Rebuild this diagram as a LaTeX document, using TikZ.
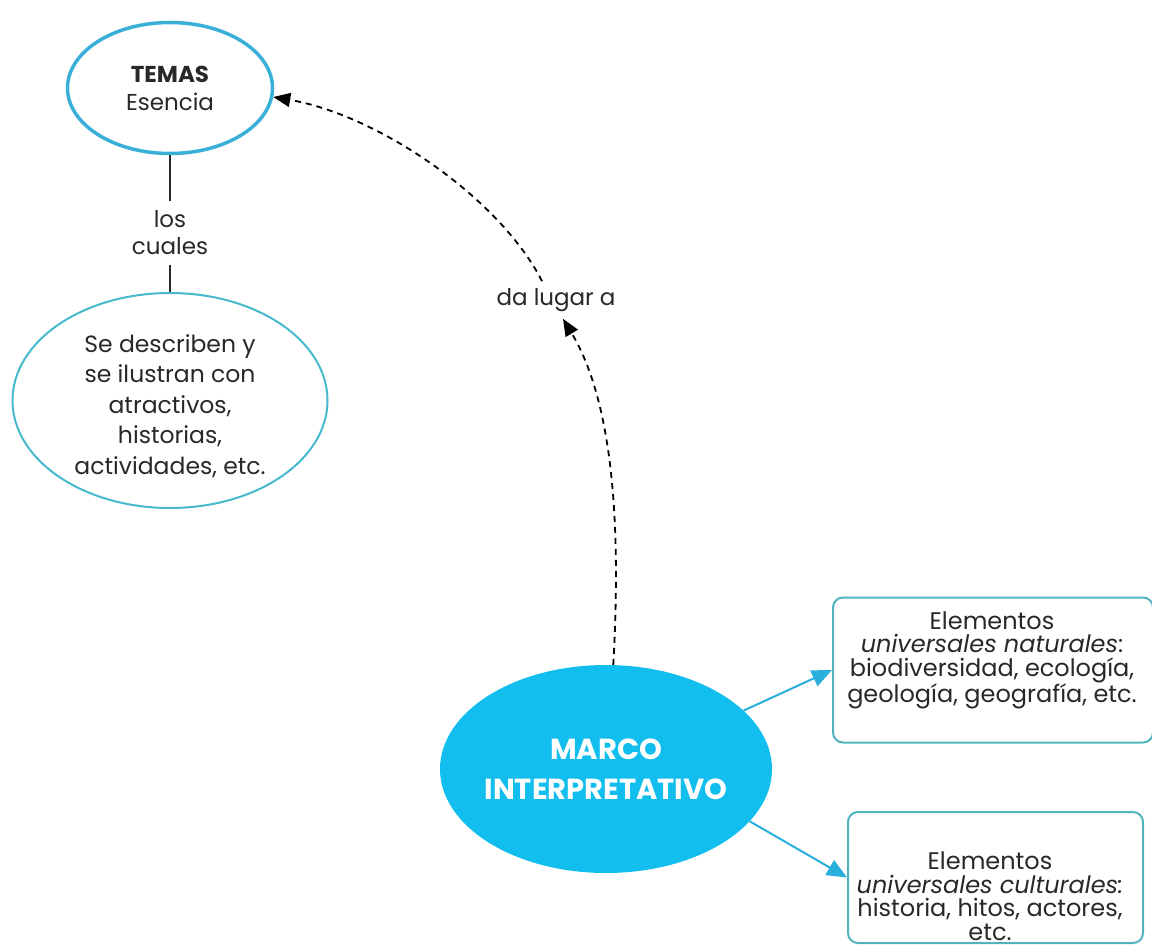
\documentclass[tikz,border=0pt]{standalone}
\usepackage{fontspec}
\setmainfont{Poppins}
\usetikzlibrary{arrows.meta,shapes.geometric}
\definecolor{temaazul}{RGB}{58,176,216}
\definecolor{detalleazul}{RGB}{70,185,205}
\definecolor{cajaazul}{RGB}{80,180,190}
\definecolor{ramaazul}{RGB}{40,175,220}
\definecolor{marcoazul}{RGB}{18,190,237}
\definecolor{texto}{RGB}{40,40,40}

\begin{document}
\begin{tikzpicture}[x=1pt,y=-1pt,text=texto,tema/.style={ellipse,draw=temaazul,line width=3.5pt,minimum width=205pt,minimum height=131pt,inner sep=0pt,align=center,font=\fontsize{23}{28}\selectfont},detalle/.style={ellipse,draw=detalleazul,line width=2pt,minimum width=315pt,minimum height=215pt,inner sep=0pt},textodetalle/.style={align=center,font=\fontsize{23.5}{30.5}\selectfont},marco/.style={ellipse,fill=marcoazul,minimum width=332pt,minimum height=208pt,inner sep=0pt,inner xsep=-8pt,align=center,text=white,font=\fontsize{29}{40}\selectfont\bfseries},caja/.style={draw=cajaazul,line width=2pt,rounded corners=10pt},textocaja/.style={align=center,inner sep=0pt,font=\fontsize{24}{23.5}\selectfont},enlace/.style={fill=white,inner xsep=3pt,inner ysep=7pt,align=center,font=\fontsize{23}{27}\selectfont},union/.style={line width=1.5pt,draw=texto},punteada/.style={line width=1.8pt,dash pattern=on 6pt off 5pt,-{Triangle[length=17pt,width=14pt]}},rama/.style={line width=2pt,draw=ramaazul,-{Triangle[length=20pt,width=17pt,fill=ramaazul]}}]
\useasboundingbox (0,0) rectangle (1152,945);
\node[tema] (temas) at (170,88) {\textbf{TEMAS}\\Esencia};
\node[enlace,inner ysep=0pt,minimum height=63pt] (cuales) at (170,233) {los\\cuales};
\node[detalle] (describen) at (170,400.5) {};
\node[textodetalle] at (170,406) {Se describen y\\se ilustran con\\atractivos,\\historias,\\actividades, etc.};
\node[marco] (marco) at (606,769) {MARCO\\INTERPRETATIVO};
\node[enlace] (lugar) at (556,300) {da lugar a};
\node[caja,minimum width=320pt,minimum height=145pt] (naturales) at (993,670) {};
\node[textocaja] at (992,660) {Elementos\\\textit{universales naturales}:\\biodiversidad, ecología,\\geología, geografía, etc.};
\node[caja,minimum width=295pt,minimum height=131pt] (culturales) at (995.5,877.5) {};
\node[textocaja] at (990,896) {Elementos\\\textit{universales culturales:}\\historia, hitos, actores,\\etc.};
\draw[union] (temas) -- (cuales);
\draw[union] (cuales) -- (describen);
\draw[punteada] (marco.86) .. controls +(7,-125) and +(53,88) .. ([xshift=7pt]lugar.south);
\draw[punteada] ([xshift=-14pt]lugar.north) .. controls +(-42,-83) and +(105,18) .. (temas.-5);
\draw[rama] (marco.23) -- (naturales.west);
\draw[rama] (marco.-20) -- (culturales.west);
\end{tikzpicture}
\end{document}
